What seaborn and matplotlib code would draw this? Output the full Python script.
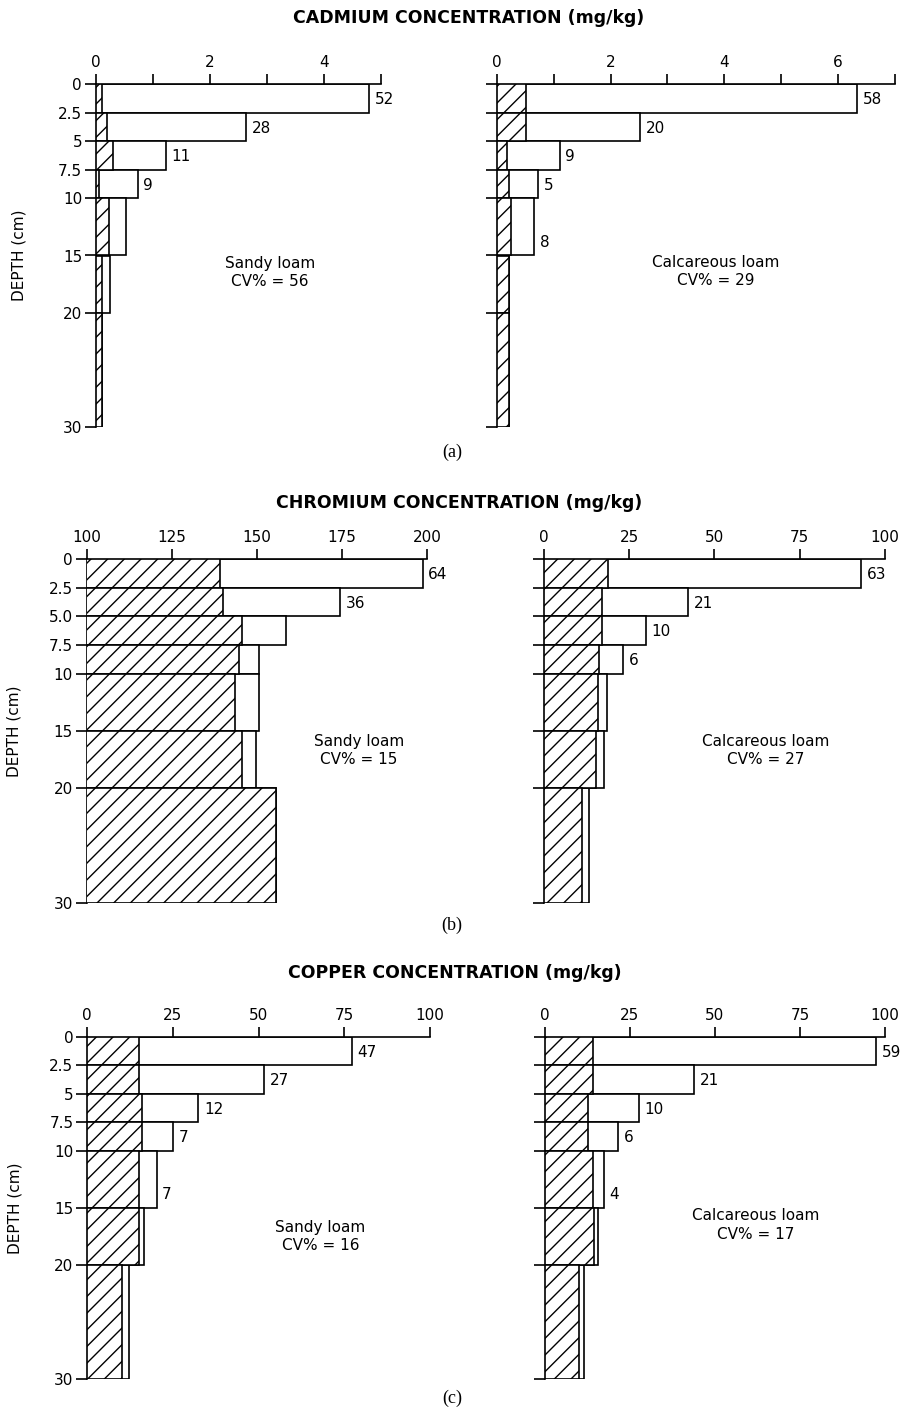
import numpy as np
import pandas as pd
import matplotlib
matplotlib.use("Agg")
import matplotlib.pyplot as plt
from matplotlib.transforms import blended_transform_factory
import seaborn as sns

# depth intervals (cm)
depth_edges = [0, 2.5, 5, 7.5, 10, 15, 20, 30]

# cadmium (mg/kg): open bar and hatched bar per depth interval
cd_sandy_open = [4.79, 2.63, 1.23, 0.73, 0.52, 0.25, 0.10]
cd_sandy_hatch = [0.10, 0.20, 0.30, 0.05, 0.23, 0.10, 0.10]
cd_calc_open = [6.34, 2.52, 1.11, 0.73, 0.66, 0.22, 0.22]
cd_calc_hatch = [0.51, 0.51, 0.18, 0.22, 0.26, 0.22, 0.22]

# chromium
cr_sandy_open = [198.6, 174.4, 158.4, 150.6, 150.6, 149.6, 155.5]
cr_sandy_hatch = [139.1, 140.1, 145.5, 144.7, 143.5, 145.5, 155.5]
cr_calc_open = [93.0, 42.4, 29.9, 23.3, 18.5, 17.7, 13.3]
cr_calc_hatch = [18.8, 17.0, 17.0, 16.3, 16.0, 15.2, 11.1]

# copper
cu_sandy_open = [77.1, 51.6, 32.4, 25.1, 20.2, 16.6, 12.3]
cu_sandy_hatch = [15.1, 15.1, 16.1, 16.1, 15.1, 15.2, 10.2]
cu_calc_open = [97.4, 43.8, 27.6, 21.6, 17.4, 15.7, 11.5]
cu_calc_hatch = [14.0, 14.0, 12.7, 12.7, 14.0, 14.4, 10.1]

# numbers written beside the top bars
cd_sandy_pct = [52, 28, 11, 9]
cd_calc_pct = [58, 20, 9, 5, 8]
cr_sandy_pct = [64, 36]
cr_calc_pct = [63, 21, 10, 6]
cu_sandy_pct = [47, 27, 12, 7, 7]
cu_calc_pct = [59, 21, 10, 6, 4]

soils = ["Sandy loam", "Calcareous loam"]
cv_values = [[56, 29], [15, 27], [16, 17]]
row_titles = ["CADMIUM CONCENTRATION (mg/kg)",
              "CHROMIUM CONCENTRATION (mg/kg)",
              "COPPER CONCENTRATION (mg/kg)"]
row_tags = ["(a)", "(b)", "(c)"]

depth_labels_ac = ["0", "2.5", "5", "7.5", "10", "15", "20", "30"]
depth_labels_b = ["0", "2.5", "5.0", "7.5", "10", "15", "20", "30"]

sns.set_style("ticks")
plt.rcParams["font.family"] = ["DejaVu Sans"]
plt.rcParams["hatch.linewidth"] = 1.0
plt.rcParams["axes.linewidth"] = 1.2
for key in ["text.color", "axes.labelcolor", "axes.edgecolor",
            "xtick.color", "ytick.color"]:
    plt.rcParams[key] = "black"

W, H = 904, 1418
fig = plt.figure(figsize=(W / 100, H / 100), dpi=100)

mids = [(a + b) / 2 for a, b in zip(depth_edges[:-1], depth_edges[1:])]


def draw_bars(ax, values, hatch=None, z=2):
    df = pd.DataFrame({"depth": mids, "conc": values})
    sns.histplot(data=df, y="depth", weights="conc", bins=depth_edges, ax=ax,
                 facecolor="white", edgecolor="black", linewidth=1.2,
                 hatch=hatch, alpha=1, zorder=z)


# panel layout in pixels: (left, right, top, bottom)
boxes = [
    [(96, 381, 84, 427), (496.7, 895, 84, 427)],
    [(86.7, 427.3, 559, 902.7), (543.7, 885, 559, 902.7)],
    [(87.3, 430, 1036.7, 1379), (545, 885, 1036.7, 1379)],
]
panels = [
    [(cd_sandy_open, cd_sandy_hatch, cd_sandy_pct), (cd_calc_open, cd_calc_hatch, cd_calc_pct)],
    [(cr_sandy_open, cr_sandy_hatch, cr_sandy_pct), (cr_calc_open, cr_calc_hatch, cr_calc_pct)],
    [(cu_sandy_open, cu_sandy_hatch, cu_sandy_pct), (cu_calc_open, cu_calc_hatch, cu_calc_pct)],
]
xlims = [[(0, 5), (0, 7)], [(100, 200), (0, 100)], [(0, 100), (0, 100)]]
xticks = [[np.arange(0, 6), np.arange(0, 8)],
          [np.arange(100, 201, 25), np.arange(0, 101, 25)],
          [np.arange(0, 101, 25), np.arange(0, 101, 25)]]
note_pos = [[(0.61, 16.5), (0.55, 16.4)], [(0.80, 16.7), (0.65, 16.7)],
            [(0.68, 17.5), (0.62, 16.5)]]
ylab_x = [-0.245, -0.19, -0.19]
title_y = [18, 503, 973]
title_x = [469, 459, 455]
tag_y = [452, 925, 1398]

for r in range(3):
    for c in range(2):
        l, rr, t, b = boxes[r][c]
        ax = fig.add_axes([l / W, 1 - b / H, (rr - l) / W, (b - t) / H])
        open_v, hatch_v, pct = panels[r][c]
        draw_bars(ax, open_v, None, 2)
        draw_bars(ax, hatch_v, "//", 3)

        ax.set_ylim(30, 0)
        ax.set_xlim(*xlims[r][c])
        ax.xaxis.tick_top()
        ax.set_xticks(xticks[r][c])
        if r == 0:
            ax.set_xticklabels([str(v) if v % 2 == 0 else "" for v in xticks[r][c]])
        else:
            ax.set_xticklabels([str(v) for v in xticks[r][c]])
        ax.set_yticks(depth_edges)
        ax.spines[["right", "bottom"]].set_visible(False)
        ax.tick_params(axis="x", top=True, bottom=False, direction="out",
                       length=7, width=1.2, labelsize=11, pad=3)
        ax.tick_params(axis="y", direction="out", length=8, width=1.2,
                       labelsize=11, pad=2)
        ax.set_xlabel("")
        if c == 0:
            ax.set_yticklabels(depth_labels_b if r == 1 else depth_labels_ac)
            ax.set_ylabel("DEPTH (cm)", fontsize=11)
            ax.yaxis.set_label_coords(ylab_x[r], 0.5)
        else:
            ax.set_yticklabels([])
            ax.set_ylabel("")

        for i, p in enumerate(pct):
            ax.annotate(str(p), xy=(open_v[i], depth_edges[i + 1] - 1.15),
                        xytext=(4, 0), textcoords="offset points",
                        va="center", ha="left", fontsize=11)

        nx, ny = note_pos[r][c]
        ax.text(nx, ny, f"{soils[c]}\nCV% = {cv_values[r][c]}",
                transform=blended_transform_factory(ax.transAxes, ax.transData),
                ha="center", va="center", fontsize=11, multialignment="center",
                linespacing=1.3)

    fig.text(title_x[r] / W, 1 - title_y[r] / H, row_titles[r], ha="center",
             va="center", fontsize=12.5, fontweight="bold")
    fig.text(452 / W, 1 - tag_y[r] / H, row_tags[r], ha="center", va="center",
             fontsize=13, family="Liberation Serif")

fig.savefig("out.png", dpi=100, facecolor="white")
